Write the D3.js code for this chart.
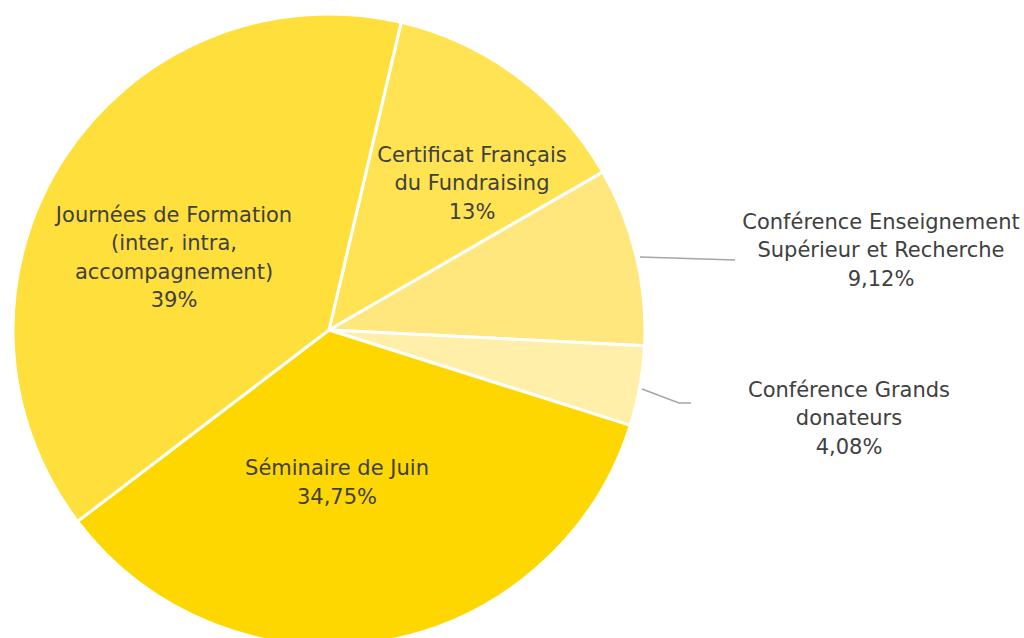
<!DOCTYPE html>
<html lang="fr">
<head>
<meta charset="utf-8">
<script src="https://cdn.jsdelivr.net/npm/d3@7"></script>
<style>
  html, body { margin: 0; padding: 0; background: #fff; overflow: hidden; }
  svg { display: block; }
</style>
</head>
<body>
<div id="chart"></div>
<script>
// ---- data ----
const categories = [
    'Certificat Français du Fundraising',
    'Conférence Enseignement Supérieur et Recherche',
    'Conférence Grands donateurs',
    'Séminaire de Juin',
    'Journées de Formation (inter, intra, accompagnement)'
];
const values = [13, 9.12, 4.08, 34.75, 39];
const valueLabels = ['13%', '9,12%', '4,08%', '34,75%', '39%'];
const labelLines = [
    ['Certificat Français', 'du Fundraising'],
    ['Conférence Enseignement', 'Supérieur et Recherche'],
    ['Conférence Grands', 'donateurs'],
    ['Séminaire de Juin'],
    ['Journées de Formation', '(inter, intra,', 'accompagnement)']
];
const colors = ['#FFE352', '#FFE77E', '#FFEFA8', '#FFD700', '#FFDF3C'];

// ---- layout ----
const width = 1024, height = 638;
const cx = 329, cy = 330, radius = 316;
const startDeg = 13.2;
const lineH = 28.5;
const fontSize = 21;

// label centres relative to pie centre, and leader lines (Excel-style placement)
const labelLayout = [
    { dx: 143, dy: -147 },
    { dx: 552, dy: -80, leader: [[311, -73], [406, -70]] },
    { dx: 520, dy: 88, leader: [[313, 59], [350, 73], [362, 73]] },
    { dx: 8, dy: 152 },
    { dx: -155, dy: -73 }
];

const svg = d3.select('#chart')
    .append('svg')
    .attr('width', width)
    .attr('height', height);

const g = svg.append('g')
    .attr('transform', `translate(${cx},${cy})`);

const pie = d3.pie()
    .sort(null)
    .value(d => d)
    .startAngle(startDeg * Math.PI / 180)
    .endAngle(startDeg * Math.PI / 180 + 2 * Math.PI);

const arc = d3.arc().innerRadius(0).outerRadius(radius);
const arcs = pie(values);

// Slices
g.append('g')
    .selectAll('path')
    .data(arcs)
    .join('path')
    .attr('d', arc)
    .attr('fill', (d, i) => colors[i])
    .attr('stroke', '#fff')
    .attr('stroke-width', 3)
    .attr('stroke-linejoin', 'round');

// Leader lines
g.append('g')
    .selectAll('path')
    .data(labelLayout.filter(d => d.leader))
    .join('path')
    .attr('d', d => d3.line()(d.leader))
    .attr('fill', 'none')
    .attr('stroke', '#A6A6A6')
    .attr('stroke-width', 1.5);

// Labels
const labels = g.append('g')
    .selectAll('text')
    .data(arcs)
    .join('text')
    .attr('text-anchor', 'middle')
    .attr('font-family', '"DejaVu Sans", Verdana, sans-serif')
    .attr('font-size', fontSize + 'px')
    .attr('fill', '#404040')
    .attr('transform', (d, i) => `translate(${labelLayout[i].dx},${labelLayout[i].dy})`);

labels.each(function(d, i) {
    const lines = labelLines[i].concat([valueLabels[i]]);
    const t = d3.select(this);
    const top = -(lines.length - 1) * lineH / 2;
    lines.forEach((ln, k) => {
        t.append('tspan')
            .attr('x', 0)
            .attr('y', top + k * lineH)
            .attr('dy', '0.35em')
            .text(ln);
    });
});
</script>
</body>
</html>
